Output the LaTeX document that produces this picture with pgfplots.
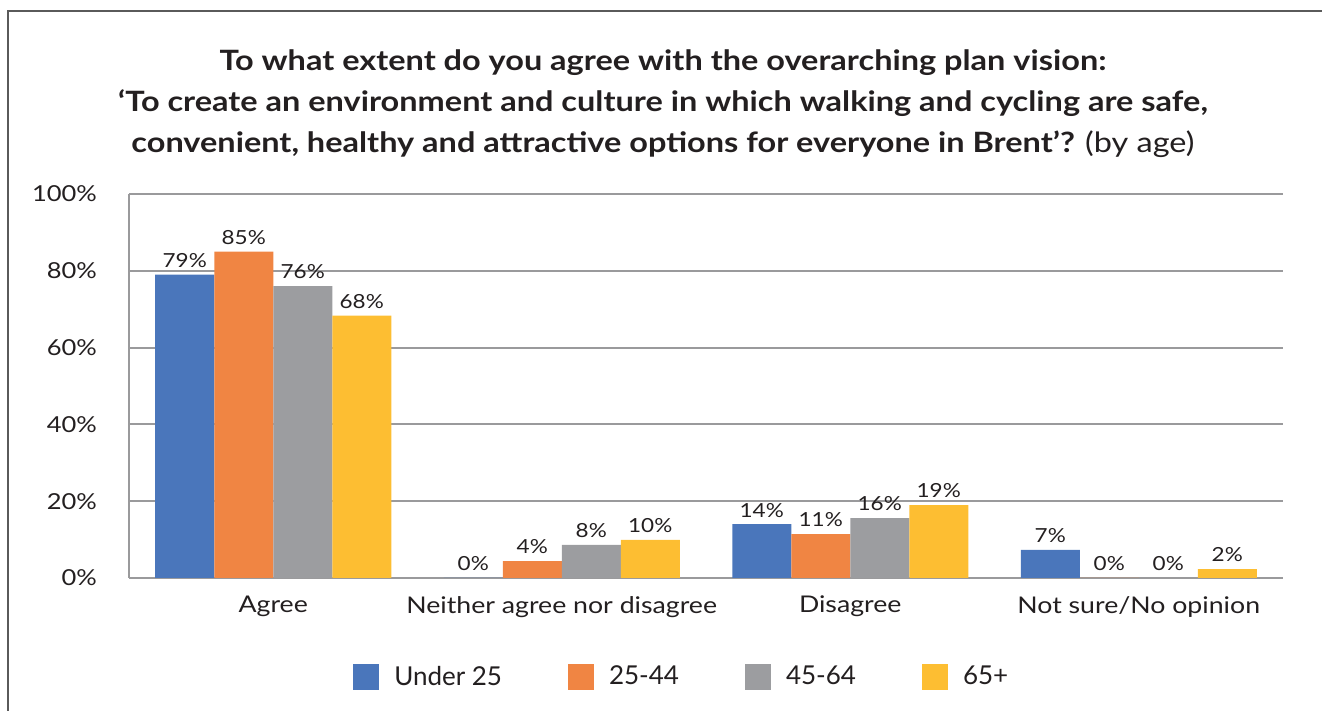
\documentclass[border=0pt]{standalone}
\usepackage{pgfplots}
\pgfplotsset{compat=1.18}
\usepackage{fontspec}
\setmainfont[FakeStretch=1.16]{Lato}
\newfontfamily\legfont{Lato}
\definecolor{cblue}{HTML}{4A76BB}
\definecolor{corange}{HTML}{F08543}
\definecolor{cgray}{HTML}{9C9DA0}
\definecolor{cyellow}{HTML}{FDBE32}
\definecolor{ctext}{HTML}{231F20}
\definecolor{gridc}{HTML}{9A9A9C}
\definecolor{framec}{HTML}{5A5A5A}
\begin{document}
\begin{tikzpicture}
\path[use as bounding box] (0,0) rectangle (661pt,355.5pt);
\draw[color=framec, line width=0.7pt] (4pt,-1pt) -- (4pt,350pt) -- (662pt,350pt);
\node[align=center, font=\fontsize{14}{20.5}\selectfont\bfseries, text=ctext] at (331.5pt,303.5pt)
{To what extent do you agree with the overarching plan vision:\\
‘To create an environment and culture in which walking and cycling are safe,\\
convenient, healthy and attractive options for everyone in Brent’? {\mdseries (by age)}};
\begin{axis}[
  at={(64.5pt,66.5pt)}, anchor=south west,
  scale only axis, width=577pt, height=192pt,
  ymin=0, ymax=100, xmin=-0.5, xmax=3.5,
  ybar=0pt, bar width=29.5pt,
  ytick={0,20,40,60,80,100},
  yticklabel={\pgfmathprintnumber{\tick}\%},
  xtick={0,1,2,3},
  xticklabels={Agree,Neither agree nor disagree,Disagree,Not sure/No opinion},
  /pgf/number format/assume math mode=true,
  major tick length=0pt,
  ymajorgrids,
  grid style={draw=gridc, line width=1pt},
  axis lines*=left,
  axis line style={draw=gridc, line width=1pt},
  tick label style={text=ctext},
  yticklabel style={font=\fontsize{11}{13}\selectfont, xshift=-12.5pt},
  xticklabel style={font=\fontsize{11.5}{13}\selectfont, yshift=-5.5pt},
  point meta=explicit symbolic,
  nodes near coords,
  every node near coord/.append style={font=\fontsize{9.7}{11}\selectfont, text=ctext},
  legend columns=4,
  legend style={at={(axis description cs:0.194,-0.258)}, anchor=west, draw=none, inner sep=0pt,
    font=\legfont\fontsize{13}{15}\selectfont, text=ctext,
    /tikz/every odd column/.append style={column sep=5.5pt},
    /tikz/every even column/.append style={column sep=31pt}},
  legend image code/.code={\fill[#1] (0pt,-6.5pt) rectangle (13pt,6.5pt);},
]
\addplot[fill=cblue, draw=none] coordinates {(0,79) [79\%] (1,0) [0\%] (2,14) [14\%] (3,7.3) [7\%]};
\addplot[fill=corange, draw=none] coordinates {(0,85) [85\%] (1,4.4) [4\%] (2,11.4) [11\%] (3,0) [0\%]};
\addplot[fill=cgray, draw=none] coordinates {(0,76) [76\%] (1,8.6) [8\%] (2,15.6) [16\%] (3,0) [0\%]};
\addplot[fill=cyellow, draw=none] coordinates {(0,68.3) [68\%] (1,9.9) [10\%] (2,19) [19\%] (3,2.3) [2\%]};
\legend{Under 25,25-44,45-64,65+}
\end{axis}
\end{tikzpicture}
\end{document}
